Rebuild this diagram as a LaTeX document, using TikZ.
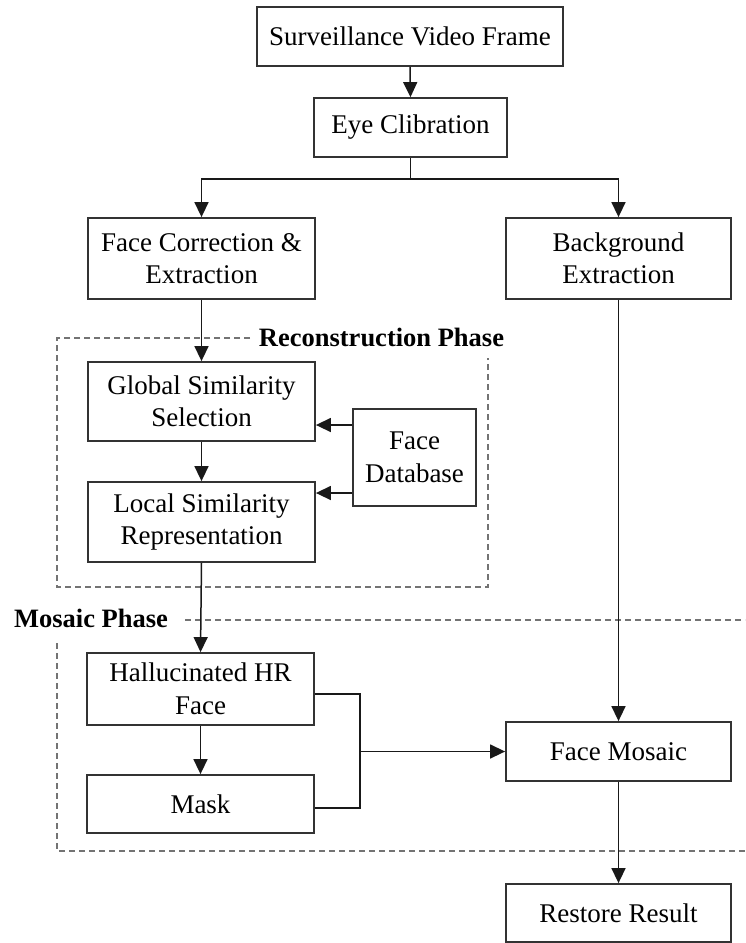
\documentclass[tikz,border=0pt]{standalone}
\usepackage{fontspec}
\setmainfont{Liberation Serif}
\usetikzlibrary{arrows.meta}
\begin{document}
\begin{tikzpicture}[x=1pt,y=-1pt,
  box/.style={draw=black!80, line width=1.8pt, rectangle, align=center, inner sep=0pt,
    font=\fontsize{27}{32.5}\selectfont},
  conn/.style={draw=black!90, line width=1.5pt},
  arr/.style={conn, -{Triangle[length=15pt,width=14pt]}},
  phase/.style={draw=black!55, line width=1.6pt, dash pattern=on 6pt off 4pt},
  phaselabel/.style={font=\fontsize{26.5}{32}\selectfont\bfseries, inner sep=0pt}
]
\useasboundingbox (0,0) rectangle (745,943);

% nodes
\node[box, minimum width=306pt, minimum height=59pt] (sv) at (410,36.5) {Surveillance Video Frame};
\node[box, minimum width=193pt, minimum height=59pt] (eye) at (410.5,127.5) {Eye Clibration};
\node[box, minimum width=227pt, minimum height=81pt] (fc) at (201.5,258.5) {Face Correction \&\\Extraction};
\node[box, minimum width=225pt, minimum height=81pt] (bg) at (618.5,258.5) {Background\\Extraction};
\node[box, minimum width=227pt, minimum height=79pt] (gs) at (201.5,401.5) {Global Similarity\\Selection};
\node[box, minimum width=123pt, minimum height=97pt] (db) at (414.5,457.5) {Face\\Database};
\node[box, minimum width=227pt, minimum height=80pt] (ls) at (201.5,522) {Local Similarity\\Representation};
\node[box, minimum width=227pt, minimum height=72pt] (hr) at (200.5,689) {Hallucinated HR\\Face};
\node[box, minimum width=227pt, minimum height=58pt] (mask) at (200.5,804) {Mask};
\node[box, minimum width=225pt, minimum height=59pt] (fm) at (618.5,751.5) {Face Mosaic};
\node[box, minimum width=225pt, minimum height=58pt] (rr) at (618.5,913) {Restore Result};

% phase regions
\node[phaselabel] (reclabel) at (381.5,337) {Reconstruction Phase};
\draw[phase] (250,338) -- (57,338) -- (57,587) -- (488,587) -- (488,358);
\node[phaselabel] (moslabel) at (91,618) {Mosaic Phase};
\draw[phase] (185,620) -- (745,620);
\draw[phase] (57,643) -- (57,851) -- (745,851);

% connectors
\draw[arr] (sv.south) -- (eye.north);
\coordinate (br) at (410.5,179);
\draw[conn] (eye.south) -- (br);
\draw[arr] (br) -| (fc.north);
\draw[arr] (br) -| (bg.north);
\draw[arr] (fc.south) -- (gs.north);
\draw[arr] (gs.south) -- (ls.north);
\draw[arr] ([yshift=32.5pt]db.west) coordinate (d1) -- (gs.east |- d1);
\draw[arr] ([yshift=-35.5pt]db.west) coordinate (d2) -- (ls.east |- d2);
\draw[arr] (ls.south) -- (hr.north);
\draw[arr] (bg.south) -- (fm.north);
\draw[arr] (hr.south) -- (mask.north);
\coordinate (j) at (360,751.5);
\draw[conn] ([yshift=-5pt]hr.east) -| (j);
\draw[conn] ([yshift=-4pt]mask.east) -| (j);
\draw[arr] (j) -- (fm.west);
\draw[arr] (fm.south) -- (rr.north);
\end{tikzpicture}
\end{document}
